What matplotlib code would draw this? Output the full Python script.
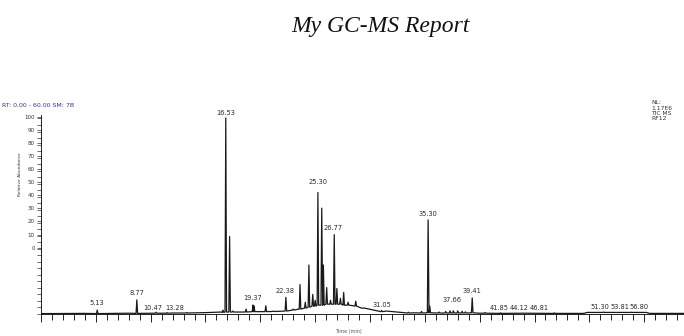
import numpy as np
import matplotlib
matplotlib.use("Agg")
import matplotlib.pyplot as plt
from matplotlib.ticker import MultipleLocator

# baseline of the TIC trace (min, % relative abundance)
baseline_t = [0, 4, 8, 12, 15, 16.5, 18, 20, 21.5, 22.5, 23.5, 24.5, 25.5, 26.5, 27.5,
              28.5, 29.5, 30.5, 31.5, 32.5, 34, 37, 40, 44, 48, 49.5, 49.8, 55.2, 55.5, 58.63]
baseline_y = [0.2, 0.3, 0.4, 0.5, 0.7, 1.0, 1.0, 1.2, 1.3, 1.6, 2.5, 3.5, 4.5, 5.0, 4.8,
              4.2, 3.0, 1.8, 1.5, 1.0, 0.6, 0.5, 0.4, 0.4, 0.3, 0.3, 0.8, 0.8, 0.3, 0.3]

# peaks: retention time, apex height, foot height
peak_rt = [5.13, 8.74, 10.5, 11.5, 13.3, 16.6, 16.85, 17.2, 17.5, 18.7, 19.33, 19.43,
           20.5, 21.2, 22.33, 23.0, 23.62, 24.1, 24.43, 24.78, 25.0, 25.25, 25.6, 25.75,
           26.05, 26.4, 26.74, 26.98, 27.3, 27.6, 28.0, 28.7, 29.3, 31.06, 33.5, 34.7,
           35.3, 35.45, 36.3, 36.9, 37.3, 37.6, 38.0, 38.4, 38.7, 39.32, 40.5, 41.9,
           46.8, 51.3, 53.8]
peak_top = [2.0, 7.2, 0.9, 0.7, 0.8, 2.0, 100, 39.5, 1.5, 2.5, 4.6, 4.0,
            4.2, 1.5, 8.5, 2.5, 15, 6, 25, 10, 7, 62, 54, 25,
            13.5, 7, 40.5, 13, 8, 11, 6, 6.5, 3, 1.8, 0.9, 1.3,
            48, 4, 1.0, 1.3, 1.6, 1.6, 1.6, 1.4, 1.1, 8.2, 0.8, 0.6,
            0.6, 1.0, 0.9]
peak_base = [0.2, 0.3, 0.4, 0.4, 0.5, 0.8, 1.0, 1.0, 1.0, 1.0, 1.2, 1.2,
             1.2, 1.3, 1.5, 2.0, 2.5, 3.0, 3.5, 4.0, 4.0, 4.5, 4.5, 4.5,
             5.0, 5.0, 5.0, 5.0, 5.0, 4.5, 4.5, 4.0, 3.0, 1.2, 0.5, 0.5,
             0.6, 0.6, 0.5, 0.5, 0.5, 0.5, 0.5, 0.5, 0.5, 0.6, 0.4, 0.3,
             0.3, 0.8, 0.8]

# peak labels as printed, and where they sit
label_text = ["5.13", "8.77", "10.47", "13.28", "16.53", "19.37", "22.38", "25.30",
              "26.77", "31.05", "35.30", "37.66", "39.41", "41.85", "44.12", "46.81",
              "51.30", "53.81", "56.80"]
label_rt = [5.13, 8.75, 10.2, 12.2, 16.86, 19.3, 22.24, 25.22,
            26.62, 31.06, 35.3, 37.44, 39.26, 41.75, 43.57, 45.42,
            50.96, 52.78, 54.54]
label_y = [5.6, 10.9, 3.2, 3.2, 102.4, 8.3, 11.7, 67.5,
           44.0, 4.6, 50.8, 7.1, 11.9, 3.2, 3.2, 3.2,
           3.6, 3.6, 3.6]

ytick_labels = ["0", "10", "20", "30", "40", "50", "60", "70", "80", "90", "100"]

# build the trace from baseline + spikes
half_w = 0.07
t_pts = list(baseline_t)
y_pts = list(baseline_y)
for rt, top, base in zip(peak_rt, peak_top, peak_base):
    t_pts += [rt - half_w, rt, rt + half_w]
    y_pts += [base, top, base]
order = np.argsort(t_pts)
t_pts = np.array(t_pts)[order]
y_pts = np.array(y_pts)[order]

fig = plt.figure(figsize=(6.84, 3.36), dpi=100)
ax = fig.add_axes([0.0599, 0.0655, 0.9401, 0.595])

ax.plot(t_pts, y_pts, color="#1a1a1a", lw=0.9)

for txt, x, y in zip(label_text, label_rt, label_y):
    ax.text(x, y, txt, fontsize=4.8, color="#2a2a2a", ha="center", va="center",
            clip_on=False)

ax.set_xlim(0, 58.63)
ax.set_ylim(0, 102)

# the printed y labels are shifted up the axis in the original report
step = (100.4 - 33.9) / 10
ax.set_yticks(np.linspace(33.9, 100.4, 11))
ax.set_yticklabels(ytick_labels)
ax.yaxis.set_minor_locator(MultipleLocator(step / 2))
ax.tick_params(axis="y", which="both", direction="out", length=3, width=0.5,
               labelsize=4, pad=1.5, colors="#333333")

ax.xaxis.set_major_locator(MultipleLocator(5))
ax.xaxis.set_minor_locator(MultipleLocator(1))
ax.tick_params(axis="x", which="major", direction="out", length=6, width=0.6,
               labelbottom=False)
ax.tick_params(axis="x", which="minor", direction="out", length=4, width=0.6)

for s in ["top", "right"]:
    ax.spines[s].set_visible(False)
ax.spines["left"].set_bounds(0, 101.5)
ax.spines["left"].set_linewidth(0.6)
ax.spines["bottom"].set_linewidth(0.6)

ax.set_ylabel("Relative Abundance", fontsize=3.2, color="#333333", labelpad=5)
ax.yaxis.set_label_coords(-0.03, 0.7)
fig.text(0.509, 0.01, "Time (min)", fontsize=3.5, color="#555555", ha="center")

fig.text(0.003, 0.685, "RT: 0.00 - 60.00 SM: 7B", fontsize=4.5, color="#2e3a8c",
         va="center")
fig.text(0.952, 0.67, "NL:\n1.17E6\nTIC MS\nRF12", fontsize=4.3, color="#333333",
         va="center", linespacing=1.1)

fig.text(0.556, 0.92, "My GC-MS Report", fontsize=17, style="italic",
         family="Liberation Serif", ha="center", va="center", color="#111111")

fig.savefig("out.png", dpi=100)
